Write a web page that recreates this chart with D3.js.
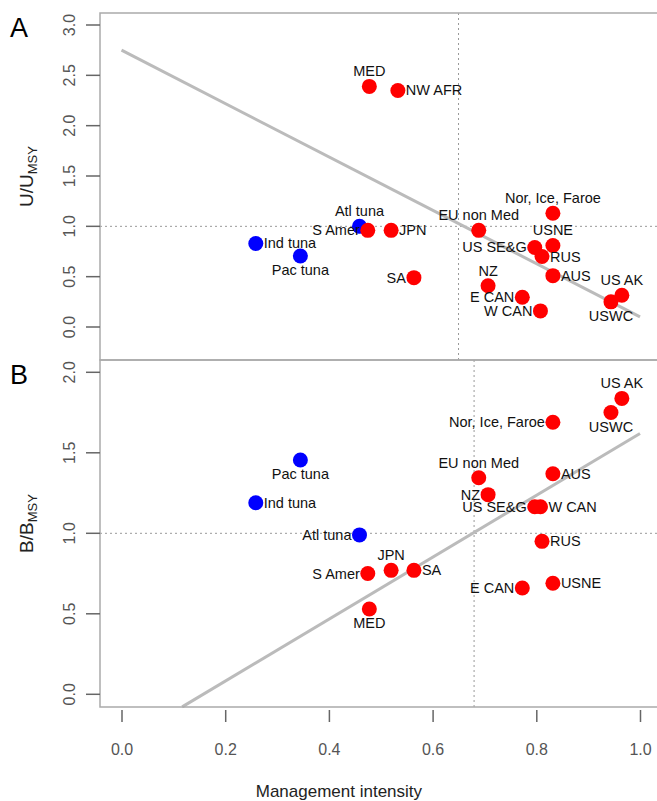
<!DOCTYPE html>
<html><head><meta charset="utf-8">
<script src="https://cdn.jsdelivr.net/npm/d3@7"></script>
<style>body{margin:0;background:#fff}svg{font-family:"Liberation Sans",Arial,sans-serif}</style>
</head><body><svg id="c" width="657" height="801"></svg>
<script>
// regions
var names = ["MED","NW AFR","Atl tuna","S Amer","JPN","Ind tuna","Pac tuna","SA","EU non Med","Nor, Ice, Faroe","USNE","US SE&G","RUS","AUS","NZ","E CAN","W CAN","US AK","USWC"];
var tuna = ["Atl tuna","Ind tuna","Pac tuna"];
var intensity = [0.478,0.533,0.459,0.475,0.520,0.259,0.345,0.564,0.689,0.832,0.832,0.797,0.811,0.832,0.707,0.773,0.808,0.965,0.944];
var uRatio = [2.39,2.35,1.00,0.96,0.96,0.83,0.705,0.49,0.96,1.13,0.81,0.79,0.70,0.51,0.41,0.295,0.16,0.315,0.25];
var bRatio = [0.53,null,0.99,0.75,0.77,1.19,1.455,0.77,1.345,1.69,0.69,1.165,0.95,1.37,1.24,0.66,1.165,1.838,1.75];
// fit lines [x0,y0,x1,y1]
var uFit = [0, 2.75, 1.0, 0.1];
var bFit = [0.117, -0.078, 1.0, 1.62];
var uRef = {x: 0.65, y: 1};
var bRef = {x: 0.68, y: 1};
var uTicks = [0,0.5,1,1.5,2,2.5,3];
var bTicks = [0,0.5,1,1.5,2];
var xTicks = [0,0.2,0.4,0.6,0.8,1];

// label placement: a=above b=below l=left r=right
var uPos = {"MED":"a","NW AFR":"r","Atl tuna":"a","S Amer":"l","JPN":"r","Ind tuna":"r","Pac tuna":"b","SA":"l","EU non Med":"a","Nor, Ice, Faroe":"a","USNE":"a","US SE&G":"l","RUS":"r","AUS":"r","NZ":"a","E CAN":"l","W CAN":"l","US AK":"a","USWC":"b"};
var bPos = {"MED":"b","Atl tuna":"l","S Amer":"l","JPN":"a","Ind tuna":"r","Pac tuna":"b","SA":"r","EU non Med":"a","Nor, Ice, Faroe":"l","USNE":"r","US SE&G":"l","RUS":"r","AUS":"r","NZ":"l","E CAN":"l","W CAN":"r","US AK":"a","USWC":"b"};

var svg = d3.select("#c");
var L = 100, R = 680;
var x = d3.scaleLinear().domain([0,1]).range([121.5,640]);
var grey = "#555";
var fmt = d3.format(".1f");

function panel(top, bottom, y, vals, pos, fit, ref, ticks, letter, sym) {
  var g = svg.append("g");
  g.append("line").attr("x1",L).attr("x2",R).attr("y1",y(ref.y)).attr("y2",y(ref.y))
    .attr("stroke","#999").attr("stroke-dasharray","2,3");
  g.append("line").attr("x1",x(ref.x)).attr("x2",x(ref.x)).attr("y1",top).attr("y2",bottom)
    .attr("stroke","#999").attr("stroke-dasharray","2,3");
  g.append("line").attr("x1",x(fit[0])).attr("y1",y(fit[1])).attr("x2",x(fit[2])).attr("y2",y(fit[3]))
    .attr("stroke","#bbb").attr("stroke-width",3);
  g.append("rect").attr("x",L).attr("y",top).attr("width",R-L).attr("height",bottom-top)
    .attr("fill","none").attr("stroke","#aaa").attr("stroke-width",1.5);
  // y axis
  g.selectAll("line.yt").data(ticks).enter().append("line").attr("class","yt")
    .attr("x1",86).attr("x2",L).attr("y1",y).attr("y2",y).attr("stroke","#666").attr("stroke-width",1.5);
  g.selectAll("text.yl").data(ticks).enter().append("text").attr("class","yl")
    .attr("transform",function(d){ return "translate(75," + y(d) + ") rotate(-90)"; })
    .attr("text-anchor","middle").attr("font-size",16).attr("fill",grey).text(fmt);
  // points
  var data = names.map(function(n,i){ return {n:n, x:intensity[i], v:vals[i]}; }).filter(function(d){ return d.v != null; });
  g.selectAll("circle").data(data).enter().append("circle")
    .attr("cx",function(d){return x(d.x);}).attr("cy",function(d){return y(d.v);}).attr("r",7.5)
    .attr("fill",function(d){ return tuna.indexOf(d.n) >= 0 ? "#0000ff" : "#ff0000"; });
  g.selectAll("text.lab").data(data).enter().append("text").attr("class","lab")
    .attr("font-size",14.5).attr("fill","#111")
    .attr("x",function(d){ var p=pos[d.n]; return x(d.x) + (p=="l"?-8:p=="r"?8:0); })
    .attr("y",function(d){ var p=pos[d.n]; return y(d.v) + (p=="a"?-10:p=="b"?19:5); })
    .attr("text-anchor",function(d){ var p=pos[d.n]; return p=="l"?"end":p=="r"?"start":"middle"; })
    .text(function(d){return d.n;});
  svg.append("text").attr("x",10).attr("y",top+24).attr("font-size",27).text(letter);
  var t = svg.append("text").attr("transform","translate(33," + ((top+bottom)/2 - 10) + ") rotate(-90)")
    .attr("text-anchor","middle").attr("font-size",19).attr("fill","#222");
  t.append("tspan").text(sym + "/" + sym);
  t.append("tspan").attr("font-size",13).attr("dy",4).text("MSY");
}

var yU = d3.scaleLinear().domain([0,3]).range([327,25]);
var yB = d3.scaleLinear().domain([0,2]).range([694.3,372.3]);
panel(13, 360, yU, uRatio, uPos, uFit, uRef, uTicks, "A", "U");
panel(360, 707, yB, bRatio, bPos, bFit, bRef, bTicks, "B", "B");

// x axis
var xa = svg.append("g").attr("transform","translate(0,710)")
  .call(d3.axisBottom(x).tickValues(xTicks).tickFormat(fmt).tickSize(12).tickPadding(22));
xa.select(".domain").remove();
xa.selectAll("line").attr("stroke","#666").attr("stroke-width",1.5);
xa.selectAll("text").attr("fill",grey).attr("font-size",16).attr("font-family","Liberation Sans");
svg.append("text").attr("x",x(0.4)+10).attr("y",797).attr("text-anchor","middle")
  .attr("font-size",17).attr("fill","#222").text("Management intensity");
</script></body></html>
